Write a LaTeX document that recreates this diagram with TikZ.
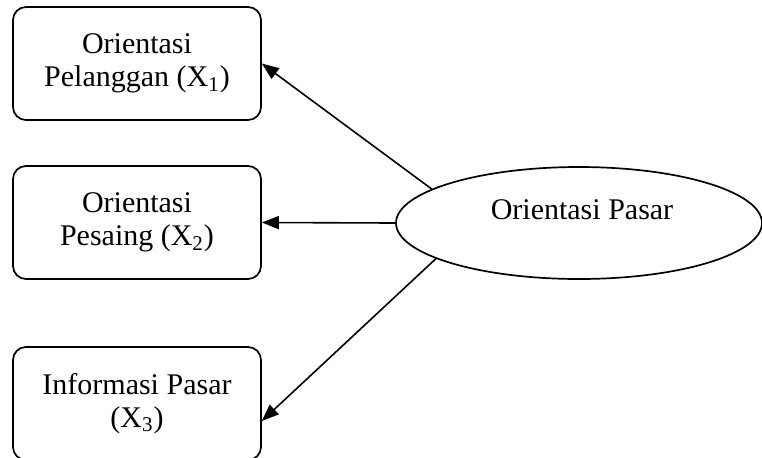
\documentclass[tikz,border=0pt]{standalone}
\usepackage{fontspec}
\setmainfont{Liberation Serif}
\usetikzlibrary{arrows.meta,shapes.geometric}
\begin{document}
\begin{tikzpicture}[x=0.5pt,y=-0.5pt,
  every node/.style={font=\fontsize{15pt}{16.5pt}\selectfont},
  dimbox/.style={draw,line width=0.85pt,rounded corners=6.5pt,
    minimum width=124pt,minimum height=56.5pt,align=center,inner sep=0pt},
  construct/.style={draw,ellipse,line width=0.85pt,
    minimum width=183pt,minimum height=56pt,inner sep=0pt},
  link/.style={line width=0.8pt,-{Triangle[length=8.5pt,width=6.5pt]}}]
  \clip (0,0) rectangle (762,457);
  % indicator boxes
  \node[dimbox] (b1) at (137,63.5) {Orientasi\\Pelanggan (X\textsubscript{1})};
  \node[dimbox] (b2) at (137,222.5) {Orientasi\\Pesaing (X\textsubscript{2})};
  \node[dimbox] (b3) at (137,403.5) {Informasi Pasar\\(X\textsubscript{3})};
  % latent construct
  \node[construct] (op) at (579,223) {};
  \node (opt) at (582,210) {Orientasi Pasar};
  % loadings
  \draw[link] (op.167) -- (b1.east);
  \draw[link] (op.west) -- (b2.east);
  \draw[link] (op.194.5) -- ([yshift=-8.75pt]b3.east);
\end{tikzpicture}
\end{document}
